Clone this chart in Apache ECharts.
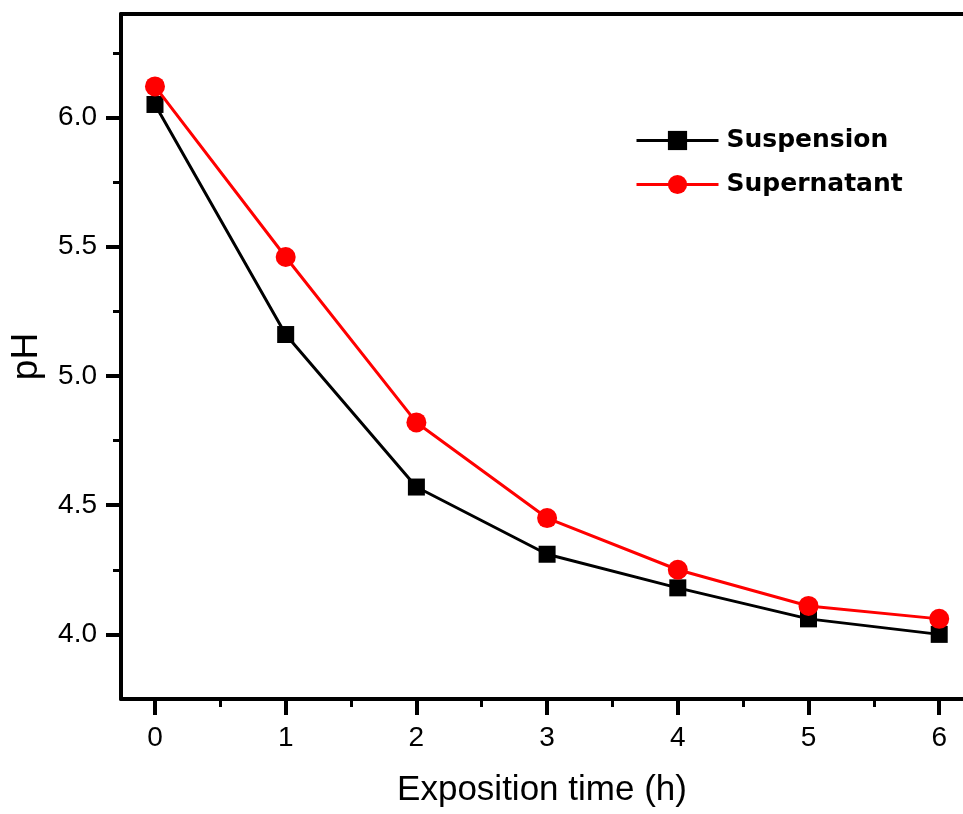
<!DOCTYPE html>
<html>
<head>
<meta charset="utf-8">
<script src="https://cdn.jsdelivr.net/npm/echarts@6/dist/echarts.min.js"></script>
<style>
  html, body { margin: 0; padding: 0; background: #fff; }
  #chart { width: 963px; height: 814px; }
</style>
</head>
<body>
<div id="chart"></div>
<script>
  // exposition time (h)
  var times = [0, 1, 2, 3, 4, 5, 6]
  var suspension = [6.05, 5.16, 4.57, 4.31, 4.18, 4.06, 4.00]
  var supernatant = [6.12, 5.46, 4.82, 4.45, 4.25, 4.11, 4.06]
  var xMajor = [0, 1, 2, 3, 4, 5, 6]
  var xMinor = [0.5, 1.5, 2.5, 3.5, 4.5, 5.5]
  var yMajor = [4.0, 4.5, 5.0, 5.5, 6.0]
  var yMinor = [4.25, 4.75, 5.25, 5.75, 6.25]

  var font = 'Liberation Sans, Arial, sans-serif'
  var chart = echarts.init(document.getElementById('chart'))

  function pairs(vals) {
    return times.map(function (t, i) { return [t, vals[i]] })
  }

  var xBase = { type: 'value', min: -0.26, max: 6.182, gridIndex: 0, splitLine: {show: false} }
  var yBase = { type: 'value', min: 3.75, max: 6.4, gridIndex: 0, splitLine: {show: false} }

  // axis that only draws ticks at the given values
  function tickAxis(base, pos, values, len, width) {
    return Object.assign({}, base, {
      position: pos,
      axisLine: { show: false, onZero: false },
      axisTick: { show: true, inside: false, length: len, customValues: values, lineStyle: { color: '#000', width: width } },
      axisLabel: { show: false }
    })
  }

  chart.setOption({
    backgroundColor: '#fff',
    animation: false,
    grid: { left: 119, top: 14, right: 0, bottom: 115 },
    legend: {
      left: 635, top: 128, orient: 'vertical', padding: 0,
      itemWidth: 82, itemHeight: 24, itemGap: 19,
      textStyle: { fontFamily: 'DejaVu Sans', fontSize: 25, fontWeight: 'bold', color: '#000', padding: [0, 0, 0, 3] },
      data: [
        { name: 'Suspension', lineStyle: { width: 3 } },
        { name: 'Supernatant', lineStyle: { width: 3 } }
      ]
    },
    xAxis: [
      Object.assign({}, xBase, {
        position: 'bottom',
        name: 'Exposition time (h)', nameLocation: 'middle', nameGap: 74,
        nameTextStyle: { fontFamily: font, fontSize: 35, color: '#000' },
        axisLine: { show: true, onZero: false, lineStyle: { color: '#000', width: 4 } },
        axisTick: { show: true, inside: false, length: 8, customValues: xMinor.concat(xMajor), lineStyle: { color: '#000', width: 3 } },
        axisLabel: { show: true, margin: 25, customValues: xMajor, fontFamily: font, fontSize: 28, color: '#000' }
      }),
      tickAxis(xBase, 'bottom', xMajor, 16, 4),
      Object.assign({}, xBase, {
        position: 'top',
        axisLine: { show: true, onZero: false, lineStyle: { color: '#000', width: 4 } },
        axisTick: { show: false },
        axisLabel: { show: false }
      })
    ],
    yAxis: [
      Object.assign({}, yBase, {
        position: 'left',
        name: 'pH', nameLocation: 'middle', nameGap: 76, nameRotate: 90,
        nameTextStyle: { fontFamily: font, fontSize: 37, color: '#000' },
        axisLine: { show: true, onZero: false, lineStyle: { color: '#000', width: 4 } },
        axisTick: { show: true, inside: false, length: 8, customValues: yMinor.concat(yMajor), lineStyle: { color: '#000', width: 3 } },
        axisLabel: {
          show: true, margin: 24, customValues: yMajor, fontFamily: font, fontSize: 28, color: '#000',
          formatter: function (v) { return v.toFixed(1) }
        }
      }),
      tickAxis(yBase, 'left', yMajor, 15, 4)
    ],
    series: [
      {
        name: 'Suspension', type: 'line', data: pairs(suspension),
        symbol: 'rect', symbolSize: 17, z: 3,
        itemStyle: { color: '#000' },
        lineStyle: { color: '#000', width: 3 }
      },
      {
        name: 'Supernatant', type: 'line', data: pairs(supernatant),
        symbol: 'circle', symbolSize: 20, z: 4,
        itemStyle: { color: '#ff0000' },
        lineStyle: { color: '#ff0000', width: 3 }
      }
    ]
  })
</script>
</body>
</html>
